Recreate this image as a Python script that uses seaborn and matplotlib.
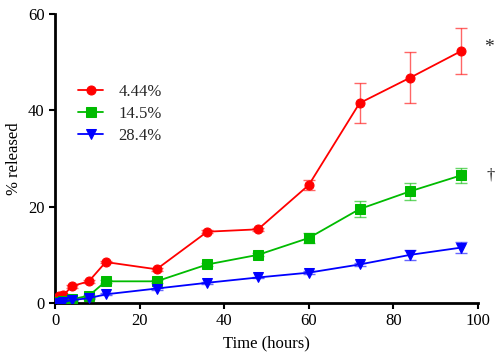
import matplotlib
matplotlib.use("Agg")
import matplotlib.pyplot as plt
import seaborn as sns
import pandas as pd
import numpy as np

time_h = [0, 1, 2, 4, 8, 12, 24, 36, 48, 60, 72, 84, 96]
labels = ["4.44%", "14.5%", "28.4%"]
rel_444 = [0.0, 1.5, 1.6, 3.5, 4.5, 8.5, 7.0, 14.8, 15.3, 24.5, 41.5, 46.8, 52.3]
err_444 = [0, 0.3, 0.3, 0.3, 0.3, 0.3, 0.3, 0.3, 0.3, 1.0, 4.2, 5.3, 4.7]
rel_145 = [0.0, 0.3, 0.4, 0.8, 1.5, 4.5, 4.5, 8.0, 10.0, 13.5, 19.5, 23.2, 26.5]
err_145 = [0, 0.2, 0.2, 0.2, 0.2, 0.3, 0.3, 0.3, 0.3, 1.0, 1.7, 1.8, 1.5]
rel_284 = [0.0, 0.0, 0.2, 0.6, 1.0, 1.8, 3.0, 4.2, 5.3, 6.3, 8.0, 10.0, 11.5]
err_284 = [0, 0.1, 0.1, 0.1, 0.1, 0.2, 0.2, 0.2, 0.2, 0.3, 0.4, 1.0, 1.2]
colors = ["#ff0000", "#00bb00", "#0000ff"]
markers = ["o", "s", "v"]

df = pd.concat([
    pd.DataFrame({"Time": time_h, "val": v, "err": e, "grp": g})
    for v, e, g in zip([rel_444, rel_145, rel_284], [err_444, err_145, err_284], labels)
])

sns.set_style("ticks")
plt.rcParams["font.family"] = ["Liberation Serif", "DejaVu Serif"]

fig = plt.figure(figsize=(5, 3.55), dpi=100)
ax = fig.add_axes([0.11, 0.1465, 0.846, 0.814])

for g, c, m in zip(labels, colors, markers):
    d = df[df.grp == g]
    ax.errorbar(d.Time, d.val, yerr=d.err, fmt="none", ecolor=c, elinewidth=1,
                capsize=4, capthick=1, alpha=0.6, zorder=2)
    sns.lineplot(data=d, x="Time", y="val", color=c, marker=m, markersize=6.5,
                 markeredgecolor=c, linewidth=1.3, label=g, ax=ax, zorder=3)

ax.set_xlim(0, 100)
ax.set_ylim(0, 60)
ax.set_xticks([0, 20, 40, 60, 80, 100])
ax.set_yticks([0, 20, 40, 60])
ax.set_xlabel("Time (hours)", fontsize=12, color="black")
ax.set_ylabel("% released", fontsize=12, color="black")
ax.tick_params(labelsize=12, colors="black", width=1.5, length=4, direction="out")
for s in ["left", "bottom"]:
    ax.spines[s].set_linewidth(2)
    ax.spines[s].set_color("black")
sns.despine(ax=ax)

leg = ax.legend(loc="upper left", bbox_to_anchor=(0.02, 0.81), frameon=False,
                fontsize=12, handlelength=1.5, labelspacing=0.35, handletextpad=0.9)

ax.text(101.5, 53, "*", fontsize=14, ha="left", va="center", clip_on=False)
ax.text(102, 26.5, "†", fontsize=12, ha="left", va="center", clip_on=False)

fig.savefig("out.png", dpi=100)
